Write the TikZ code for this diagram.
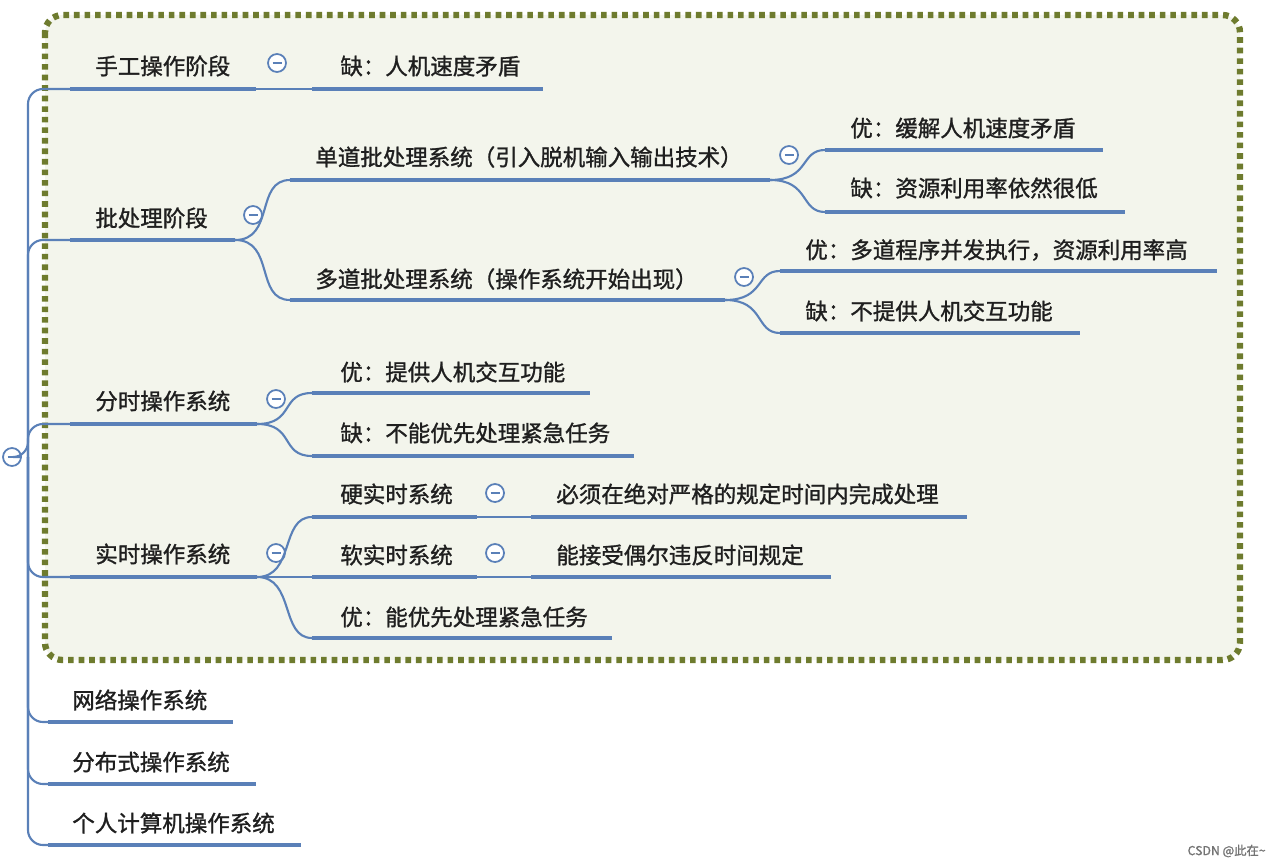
\documentclass[tikz,border=0pt]{standalone}
\usepackage{fontspec}
\setmainfont{Noto Sans CJK SC}[FakeBold=1.2,AutoFakeBold=1.2]
\begin{document}
\begin{tikzpicture}[x=0.02cm,y=-0.02cm,
  cn/.style={draw=blu,line width=1.2pt},
  t/.style={anchor=west,inner sep=0pt,font=\fontsize{12.8}{14}\selectfont,text=black!88},
  mc/.style={circle,draw=blu,fill=white,line width=1pt,minimum size=0.36cm,inner sep=0pt,
    path picture={\draw[blu,line width=1pt] ([xshift=-0.09cm]path picture bounding box.center)--([xshift=0.09cm]path picture bounding box.center);}}]
\definecolor{blu}{HTML}{5A80B8}
\definecolor{olv}{HTML}{6E7B2E}
\definecolor{bg}{HTML}{F3F5EC}
\tikzset{ul/.style={draw=blu,line width=2.3pt}}
\useasboundingbox (0,0) rectangle (1280,865);
\fill[white] (0,0) rectangle (1280,865);
\draw[olv,fill=bg,line width=3.6pt,dash pattern=on 3.2pt off 2.8pt,rounded corners=0.35cm] (45,15) rectangle (1240,660);
\node[mc] (root) at (12,457) {};
\begin{scope}[cn,rounded corners=0.3cm]
\draw (root.east) -- (28,457) |- (70,89);
\draw (28,457) |- (70,240);
\draw (28,457) |- (70,424);
\draw (28,457) |- (70,577);
\draw (28,457) |- (48,722);
\draw (28,457) |- (48,784);
\draw (28,457) |- (48,845);
\end{scope}
\node[t] (a) at (95,66) {手工操作阶段}; \draw[ul] (70,89)--(256,89);
\node[mc] (ac) at (277,63) {};
\draw[cn] (256,89)--(312,89);
\node[t] (a1) at (340,66) {缺：人机速度矛盾}; \draw[ul] (312,89)--(543,89);

\node[t] (b) at (95,218) {批处理阶段}; \draw[ul] (70,240)--(235,240);
\node[mc] (bc) at (253,215) {};
\draw[cn] (235,240) .. controls (275,240) and (255,180) .. (290,180);
\draw[cn] (235,240) .. controls (275,240) and (255,300) .. (290,300);
\node[t] (b1) at (315,157) {单道批处理系统（引入脱机输入输出技术）}; \draw[ul] (290,180)--(770,180);
\node[t] (b2) at (315,279) {多道批处理系统（操作系统开始出现）}; \draw[ul] (290,300)--(725,300);
\node[mc] (b1c) at (789,155) {};
\draw[cn] (770,180) .. controls (810,180) and (800,150) .. (825,150);
\draw[cn] (770,180) .. controls (810,180) and (800,212) .. (825,212);
\node[t] (b11) at (850,128) {优：缓解人机速度矛盾}; \draw[ul] (825,150)--(1103,150);
\node[t] (b12) at (850,188) {缺：资源利用率依然很低}; \draw[ul] (825,212)--(1125,212);
\node[mc] (b2c) at (744,277) {};
\draw[cn] (725,300) .. controls (765,300) and (755,271) .. (780,271);
\draw[cn] (725,300) .. controls (765,300) and (755,333) .. (780,333);
\node[t] (b21) at (805,250) {优：多道程序并发执行，资源利用率高}; \draw[ul] (780,271)--(1217,271);
\node[t] (b22) at (805,311) {缺：不提供人机交互功能}; \draw[ul] (780,333)--(1080,333);

\node[t] (c) at (95,401) {分时操作系统}; \draw[ul] (70,424)--(257,424);
\node[mc] (cc) at (276,399) {};
\draw[cn] (257,424) .. controls (295,424) and (280,393) .. (312,393);
\draw[cn] (257,424) .. controls (295,424) and (280,456) .. (312,456);
\node[t] (c1) at (340,372) {优：提供人机交互功能}; \draw[ul] (312,393)--(590,393);
\node[t] (c2) at (340,433) {缺：不能优先处理紧急任务}; \draw[ul] (312,456)--(634,456);

\node[t] (d) at (95,554) {实时操作系统}; \draw[ul] (70,577)--(257,577);
\node[mc] (dc) at (276,553) {};
\draw[cn] (257,577) .. controls (295,577) and (280,517) .. (312,517);
\draw[cn] (257,577)--(312,577);
\draw[cn] (257,577) .. controls (295,577) and (280,638) .. (312,638);
\node[t] (d1) at (340,494) {硬实时系统}; \draw[ul] (312,517)--(477,517);
\node[t] (d2) at (340,555) {软实时系统}; \draw[ul] (312,577)--(477,577);
\node[t] (d3) at (340,617) {优：能优先处理紧急任务}; \draw[ul] (312,638)--(612,638);
\node[mc] (d1c) at (495,493) {};
\node[mc] (d2c) at (495,553) {};
\draw[cn] (477,517)--(531,517); \draw[cn] (477,577)--(531,577);
\node[t] (d11) at (556,494) {必须在绝对严格的规定时间内完成处理}; \draw[ul] (531,517)--(967,517);
\node[t] (d21) at (556,555) {能接受偶尔违反时间规定}; \draw[ul] (531,577)--(831,577);

\node[t] (e) at (72,700) {网络操作系统}; \draw[ul] (48,722)--(233,722);
\node[t] (f) at (72,762) {分布式操作系统}; \draw[ul] (48,784)--(256,784);
\node[t] (g) at (72,823) {个人计算机操作系统}; \draw[ul] (48,845)--(301,845);

\node[anchor=east,inner sep=0pt,font=\fontsize{7}{8}\selectfont,text=black!55] (wm) at (1266,851) {CSDN @此在\textasciitilde};
\end{tikzpicture}
\end{document}
